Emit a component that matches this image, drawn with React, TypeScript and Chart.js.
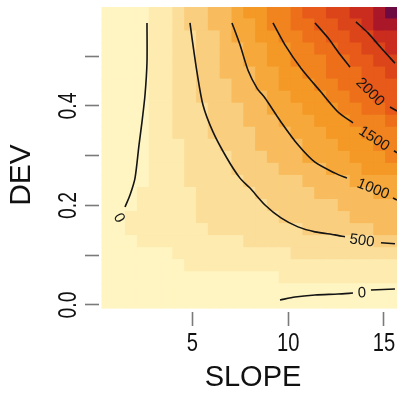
import React, { useEffect, useRef } from 'react';
import { Chart, registerables } from 'chart.js';

Chart.register(...registerables);

// ---------- data ----------
// grid of SLOPE cell centres (columns)
const slopeGrid = [
  0.600, 1.217, 1.833, 2.450, 3.067, 3.683, 4.300, 4.917, 5.533, 6.150, 6.767, 7.383, 8.000,
  8.617, 9.233, 9.850, 10.467, 11.083, 11.700, 12.317, 12.933, 13.550, 14.167, 14.783, 15.400,
];
// DEV cell edges (rows, bottom to top)
const devEdges = [
  -0.006, 0.0182, 0.0424, 0.0666, 0.0908, 0.115, 0.1392, 0.1634, 0.1876, 0.2118, 0.236, 0.2602,
  0.2844, 0.3086, 0.3328, 0.357, 0.3812, 0.4054, 0.4296, 0.4538, 0.478, 0.5022, 0.5264, 0.5506,
  0.5748, 0.599,
];
// colour class of every cell, one string per row (bottom row first), one char per column
const cellLevels = [
  '0000000000000000000000000',
  '0000000000000000000000000',
  '0000000000000001111111111',
  '0000000111111111111111111',
  '0000001111111111222222222',
  '0001111111112222222222233',
  '0011111112222222233333344',
  '0011111122222223333334444',
  '0001111122222233333344444',
  '0001111122222333334444455',
  '0000111222223333344445555',
  '0000111222233334444555666',
  '0000111222233344455556667',
  '0000111222333444455566677',
  '0000112223333444555666777',
  '0000112223334445556667778',
  '0000112223334455566677889',
  '0000112233344455666778899',
  '0000112233344556667788999',
  '000011223344455667788899a',
  '00001122334455667778899aa',
  '0000112233445566778899aab',
  '000011223345566778899aabb',
  '00001123344556778899aabcc',
  '0000112334456677899aabbcd',
];
const levelColors = [
  '#FFF5C2', '#FDEBB0', '#FBDE9A', '#F9CE7E', '#F8BC5E', '#F6A93A', '#F49826',
  '#F1841E', '#ED6F1A', '#E75A19', '#DC451A', '#CA2D1E', '#A91729', '#6E0A42',
];

// contour lines: [SLOPE, DEV] points
const contour0Left: number[][] = [
  [2.637, 0.567], [2.637, 0.488], [2.533, 0.422], [2.376, 0.368], [2.221, 0.322],
  [2.012, 0.255], [1.751, 0.221], [1.490, 0.197],
];
const contour0BottomA: number[][] = [
  [9.575, 0.010], [10.357, 0.016], [11.401, 0.020], [12.601, 0.022], [13.384, 0.024],
];
const contour0BottomB: number[][] = [[14.322, 0.030], [15.574, 0.032]];
const contour500A: number[][] = [
  [4.880, 0.567], [4.984, 0.537], [5.245, 0.468], [5.558, 0.402], [6.080, 0.348],
  [6.810, 0.295], [7.488, 0.255], [8.010, 0.235], [8.793, 0.201], [9.627, 0.175],
  [10.514, 0.157], [11.401, 0.147], [12.444, 0.141], [12.966, 0.137],
];
const contour500B: number[][] = [[14.844, 0.125], [15.574, 0.123]];
const contour1000A: number[][] = [
  [7.071, 0.567], [7.488, 0.523], [7.906, 0.472], [8.375, 0.436], [8.792, 0.416],
  [9.627, 0.368], [10.514, 0.322], [11.401, 0.287], [12.444, 0.265], [13.070, 0.255],
];
const contour1000B: number[][] = [[15.470, 0.215], [15.679, 0.211]];
const contour1500A: number[][] = [
  [9.210, 0.567], [9.836, 0.523], [10.671, 0.476], [11.714, 0.428], [12.601, 0.388], [13.384, 0.366],
];
const contour1500B: number[][] = [[15.522, 0.310], [15.679, 0.306]];
const contour2000A: number[][] = [[11.401, 0.567], [12.079, 0.537], [12.601, 0.509], [13.227, 0.478]];
const contour2000B: number[][] = [[15.313, 0.398], [15.679, 0.390]];
const contour2500: number[][] = [[13.539, 0.569], [14.165, 0.547], [14.843, 0.517], [15.574, 0.486]];

const contourLines = [
  contour0Left, contour0BottomA, contour0BottomB, contour500A, contour500B, contour1000A,
  contour1000B, contour1500A, contour1500B, contour2000A, contour2000B, contour2500,
];

// contour labels: text, SLOPE, DEV, angle (deg)
const contourLabels = [
  { text: '0', slope: 1.176, dev: 0.175, angle: 60 },
  { text: '0', slope: 13.853, dev: 0.024, angle: -3 },
  { text: '500', slope: 13.85, dev: 0.129, angle: 8 },
  { text: '1000', slope: 14.426, dev: 0.233, angle: 22 },
  { text: '1500', slope: 14.478, dev: 0.334, angle: 33 },
  { text: '2000', slope: 14.269, dev: 0.428, angle: 45 },
];

const xTicks = [5, 10, 15];
const xTickLabels = ['5', '10', '15'];
const yTicks = [0, 0.1, 0.2, 0.3, 0.4, 0.5];
const yTickLabels = ['0.0', '', '0.2', '', '0.4', ''];
const xTitle = 'SLOPE';
const yTitle = 'DEV';

const SANS = '"Liberation Sans", Arial, sans-serif';

export default function App() {
  const ref = useRef<HTMLCanvasElement>(null);

  useEffect(() => {
    document.body.style.margin = '0';
    const cellDatasets = cellLevels.map((row, j) => ({
      type: 'bar' as const,
      order: 2,
      grouped: false,
      barPercentage: 1,
      categoryPercentage: 1,
      borderWidth: 0,
      inflateAmount: 0.6,
      backgroundColor: row.split('').map((c) => levelColors[parseInt(c, 16)]),
      data: slopeGrid.map((s) => ({ x: s, y: [devEdges[j], devEdges[j + 1]] })),
    }));
    const lineDatasets = contourLines.map((pts) => ({
      type: 'line' as const,
      order: 0,
      data: pts.map((p) => ({ x: p[0], y: p[1] })),
      borderColor: '#141414',
      borderWidth: 1.6,
      pointRadius: 0,
      tension: 0.25,
      fill: false,
    }));

    const textPlugin = {
      id: 'texts',
      afterDatasetsDraw(chart: any) {
        const { ctx, scales } = chart;
        const xs = scales.x;
        const ys = scales.y;
        ctx.save();
        ctx.font = `15px ${SANS}`;
        ctx.fillStyle = '#151515';
        ctx.textAlign = 'center';
        ctx.textBaseline = 'middle';
        for (const L of contourLabels) {
          ctx.save();
          ctx.translate(xs.getPixelForValue(L.slope), ys.getPixelForValue(L.dev));
          ctx.rotate((L.angle * Math.PI) / 180);
          ctx.fillText(L.text, 0, 0);
          ctx.restore();
        }
        ctx.restore();
      },
      afterDraw(chart: any) {
        const { ctx, scales } = chart;
        const xs = scales.x;
        const ys = scales.y;
        ctx.save();
        ctx.fillStyle = '#111';
        ctx.textAlign = 'center';
        ctx.textBaseline = 'alphabetic';
        ctx.font = `25.5px ${SANS}`;
        // x tick labels (narrow)
        xTicks.forEach((v, i) => {
          ctx.save();
          ctx.translate(xs.getPixelForValue(v), 350.5);
          ctx.scale(0.79, 1);
          ctx.fillText(xTickLabels[i], 0, 0);
          ctx.restore();
        });
        // y tick labels (narrow, rotated)
        yTicks.forEach((v, i) => {
          if (!yTickLabels[i]) return;
          ctx.save();
          ctx.translate(76, ys.getPixelForValue(v));
          ctx.rotate(-Math.PI / 2);
          ctx.scale(0.76, 1);
          ctx.fillText(yTickLabels[i], 0, 0);
          ctx.restore();
        });
        ctx.textBaseline = 'middle';
        ctx.font = `30px ${SANS}`;
        ctx.save();
        ctx.translate(22, 175);
        ctx.rotate(-Math.PI / 2);
        ctx.fillText(yTitle, 0, 0);
        ctx.restore();
        ctx.font = `29px ${SANS}`;
        ctx.fillText(xTitle, 253, 378);
        ctx.restore();
      },
    };

    const chart = new Chart(ref.current as HTMLCanvasElement, {
      type: 'bar',
      data: { datasets: [...lineDatasets, ...cellDatasets] as any },
      options: {
        animation: false,
        responsive: false,
        maintainAspectRatio: false,
        devicePixelRatio: 1,
        layout: { padding: { top: 7, right: 8, left: 0, bottom: 0 } },
        plugins: { legend: { display: false }, tooltip: { enabled: false } },
        scales: {
          x: {
            type: 'linear',
            min: 0.133,
            max: 15.68,
            offset: false,
            afterBuildTicks: (s: any) => {
              s.ticks = xTicks.map((v) => ({ value: v }));
            },
            afterFit: (s: any) => {
              s.height = 87;
            },
            grid: {
              offset: false,
              drawOnChartArea: false,
              drawTicks: true,
              tickLength: 14,
              tickColor: '#7a7a7a',
              tickWidth: 1.6,
            },
            border: { display: false },
            ticks: { display: false },
          },
          y: {
            type: 'linear',
            min: -0.0141,
            max: 0.599,
            afterBuildTicks: (s: any) => {
              s.ticks = yTicks.map((v) => ({ value: v }));
            },
            afterFit: (s: any) => {
              s.width = 99;
            },
            grid: {
              drawOnChartArea: false,
              drawTicks: true,
              tickLength: 14,
              tickColor: '#7a7a7a',
              tickWidth: 1.6,
            },
            border: { display: false },
            ticks: { display: false },
          },
        },
      },
      plugins: [textPlugin],
    } as any);
    return () => chart.destroy();
  }, []);

  return (
    <div style={{ width: 405, height: 399, background: '#fff' }}>
      <canvas ref={ref} width={405} height={399} style={{ display: 'block', width: 405, height: 399 }} />
    </div>
  );
}
